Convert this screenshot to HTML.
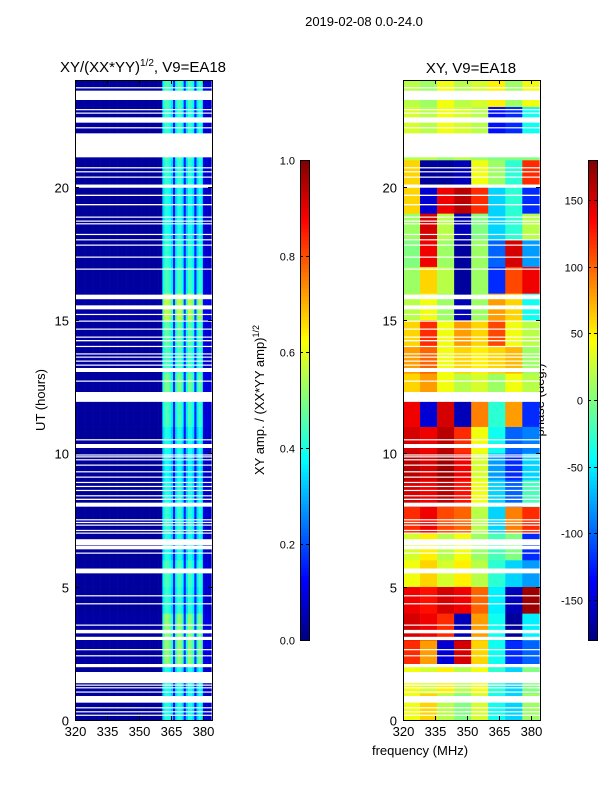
<!DOCTYPE html>
<html><head><meta charset="utf-8"><style>
body{margin:0;background:#fff;}
svg text{font-family:"Liberation Sans",sans-serif;fill:#000;}
</style></head><body>
<svg id="c" width="600" height="800" xmlns="http://www.w3.org/2000/svg">
<rect width="600" height="800" fill="#fff"/>
<text x="364" y="26" font-size="13" text-anchor="middle">2019-02-08 0.0-24.0</text>
<text x="143" y="72" font-size="15" text-anchor="middle">XY/(XX*YY)<tspan font-size="10" dy="-6">1/2</tspan><tspan dy="6">, V9=EA18</tspan></text>
<text x="471" y="73" font-size="15" text-anchor="middle">XY, V9=EA18</text>
<text transform="translate(45,400) rotate(-90)" font-size="13" text-anchor="middle">UT (hours)</text>
<text x="420" y="755" font-size="13" text-anchor="middle">frequency (MHz)</text>
<text transform="translate(264,400) rotate(-90)" font-size="13" text-anchor="middle">XY amp. / (XX*YY amp)<tspan font-size="9" dy="-5">1/2</tspan></text>
<text transform="translate(544,400) rotate(-90)" font-size="13" text-anchor="middle">phase (deg.)</text>
<g id="left"></g>
<g id="right"></g>
<g id="axes"></g>
<g id="cb"></g>
</svg>
<script>
// ---- data ----
const hours = [0,1,2,3,4,5,6,7,8,9,10,11,12,13,14,15,16,17,18,19,20,21,22,23];
const freqTicks = [320,335,350,365,380];
const timeTicks = [0,5,10,15,20];
const ampTicks = [0.0,0.2,0.4,0.6,0.8,1.0];
const phaseTicks = [-150,-100,-50,0,50,100,150];
// amplitude per 1 MHz bin 320..383
const ampByFreq = [0.03,0.03,0.03,0.03,0.03,0.03,0.03,0.03,0.03,0.03,
0.03,0.03,0.03,0.03,0.03,0.03,0.03,0.03,0.03,0.03,
0.03,0.03,0.03,0.03,0.03,0.03,0.03,0.03,0.03,0.03,
0.03,0.03,0.03,0.03,0.03,0.03,0.03,0.03,0.03,0.03,
0.03,0.38,0.45,0.45,0.42,0.36,0.15,0.38,0.45,0.45,
0.38,0.16,0.36,0.45,0.43,0.38,0.16,0.36,0.44,0.4,
0.1,0.08,0.08,0.08];
const rowGain = [0.9,0.9,1.15,1.15,0.95,1.0,0.9,0.95,0.9,0.85,0.9,1.0,1.1,1.0,1.05,1.25,1.0,0.95,0.9,0.9,0.95,1.0,0.95,1.0];
// phase (deg) per hour x 8 MHz bin (320-328 ... 376-384)
const phase = [
[40,60,20,0,30,-40,-60,10],
[40,30,50,20,40,-30,-60,0],
[120,80,-150,150,60,-40,-120,-100],
[150,140,120,-160,80,-40,-170,-50],
[140,130,150,140,100,-50,-160,170],
[40,60,30,50,20,-30,-60,-80],
[30,50,20,40,10,-20,0,-120],
[120,140,110,100,20,-60,90,120],
[150,140,160,130,40,-60,-100,-20],
[160,150,170,140,30,-80,-120,-60],
[150,140,160,120,40,-40,-100,-90],
[140,-150,150,-160,90,-30,80,-120],
[60,80,40,20,30,10,40,20],
[80,100,40,60,50,60,70,10],
[60,120,40,80,60,110,40,20],
[20,40,10,-160,10,80,60,-40],
[10,60,20,-170,10,-120,110,140],
[0,140,10,-170,10,-100,150,-80],
[10,150,20,-160,0,-60,-30,20],
[60,-150,140,160,120,-60,-30,-120],
[60,-170,-170,-160,40,10,-30,120],
[20,20,10,20,10,0,0,0],
[30,20,40,30,20,-130,-120,-40],
[20,10,40,20,30,50,10,40]];
// flagged (blank) time ranges in hours [start,end]
const gaps = [[0.17,0.2],[0.3,0.33],[0.45,0.48],[0.65,0.9],[1.04,1.07],[1.2,1.23],[1.3,1.33],[1.38,1.8],[1.98,2.1],[2.4,2.43],[2.63,2.66],[3.0,3.12],[3.25,3.38],[3.55,3.58],[4.35,4.38],[4.65,4.68],[5.5,5.68],[6.25,6.28],[6.4,6.53],[6.55,6.78],[7.0,7.03],[7.1,7.13],[7.3,7.33],[7.4,7.43],[7.5,7.53],[8.0,8.15],[8.25,8.3],[8.4,8.43],[8.6,8.63],[8.75,8.78],[8.9,8.93],[9.1,9.13],[9.3,9.33],[9.55,9.58],[9.75,9.78],[9.86,9.89],[9.93,9.96],[10.2,10.35],[10.5,10.53],[11.93,12.3],[12.7,12.73],[13.05,13.2],[13.3,13.33],[13.45,13.48],[13.6,13.63],[13.72,13.75],[14.0,14.03],[14.2,14.25],[14.35,14.38],[14.65,14.68],[14.95,14.98],[15.2,15.23],[15.4,15.55],[15.78,15.95],[16.9,16.93],[17.35,17.38],[17.8,17.83],[18.0,18.03],[18.2,18.23],[18.6,18.63],[18.7,18.73],[18.85,18.88],[19.3,19.35],[19.65,19.7],[19.96,20.08],[20.35,20.38],[20.55,20.58],[20.7,20.73],[21.1,22.0],[22.2,22.23],[22.4,22.6],[22.75,22.78],[22.88,22.91],[23.25,23.6],[23.7,23.73]];
// ---- scales ----
const NS='http://www.w3.org/2000/svg';
const top0=80, bot0=720, L={x0:75,x1:212}, R={x0:403,x1:540};
const fmin=320, fmax=384.3;
function yS(h){return bot0-(h/24)*(bot0-top0);}
function xS(p,f){return p.x0+(f-fmin)/(fmax-fmin)*(p.x1-p.x0);}
function cl(v){return Math.max(0,Math.min(1,v));}
function jet(v){v=cl(v);const r=cl(1.5-Math.abs(4*v-3)),g=cl(1.5-Math.abs(4*v-2)),b=cl(1.5-Math.abs(4*v-1));return `rgb(${Math.round(r*255)},${Math.round(g*255)},${Math.round(b*255)})`;}
function rect(g,x,y,w,h,fill){const r=document.createElementNS(NS,'rect');r.setAttribute('x',x);r.setAttribute('y',y);r.setAttribute('width',w);r.setAttribute('height',h);r.setAttribute('fill',fill);g.appendChild(r);return r;}
function line(g,x1,y1,x2,y2,c){const l=document.createElementNS(NS,'line');l.setAttribute('x1',x1);l.setAttribute('y1',y1);l.setAttribute('x2',x2);l.setAttribute('y2',y2);l.setAttribute('stroke',c||'#000');l.setAttribute('stroke-width',1);g.appendChild(l);return l;}
function text(g,x,y,s,anchor){const t=document.createElementNS(NS,'text');t.setAttribute('x',x);t.setAttribute('y',y);t.setAttribute('font-size','13');t.setAttribute('text-anchor',anchor||'middle');t.textContent=s;g.appendChild(t);return t;}
// ---- left heatmap ----
const gL=document.getElementById('left');
hours.forEach((h,i)=>{
  ampByFreq.forEach((a,j)=>{
    const f0=fmin+j, f1=Math.min(fmin+j+1,fmax);
    const r=rect(gL,xS(L,f0),yS(h+1),xS(L,f1)-xS(L,f0)+0.3,yS(h)-yS(h+1)+0.3,jet(a*rowGain[i]));
    
    
  });
});
// ---- right heatmap ----
const gR=document.getElementById('right');
phase.forEach((row,i)=>{
  row.forEach((p,j)=>{
    const f0=fmin+j*8, f1=Math.min(fmin+(j+1)*8,fmax);
    const r=rect(gR,xS(R,f0),yS(hours[i]+1),xS(R,f1)-xS(R,f0)+0.3,yS(hours[i])-yS(hours[i]+1)+0.3,jet((p+180)/360));
    
    
  });
});
// ---- gaps ----
[[gL,L],[gR,R]].forEach(([g,p])=>{
  gaps.forEach(([a,b])=>{
    const r=rect(g,p.x0,yS(b),p.x1-p.x0,Math.max(1.2,yS(a)-yS(b)),'#fff');
    
    
  });
});
// ---- axes ----
const gA=document.getElementById('axes');
[L,R].forEach((p,k)=>{
  const fr=rect(gA,p.x0+0.5,top0+0.5,p.x1-p.x0,bot0-top0,'none');
  fr.setAttribute('stroke','#000');
  
  
  timeTicks.forEach(t=>{
    const y=Math.round(yS(t))+0.5;
    line(gA,p.x0,y,p.x0+4,y);line(gA,p.x1-4,y,p.x1,y);
    const tl=text(gA,p.x0-6,y+5,String(t),'end');
    
    
  });
  freqTicks.forEach(f=>{
    const x=Math.round(xS(p,f))+0.5;
    line(gA,x,bot0,x,bot0-4);line(gA,x,top0,x,top0+4);
    const tl=text(gA,x,bot0+16,String(f));
    
    
  });
});
// ---- colorbars ----
const gC=document.getElementById('cb');
const cbTop=160, cbBot=640;
function cbar(x0,w,vmin,vmax,ticks,name,fmt){
  const n=120;
  for(let i=0;i<n;i++){
    const y=cbBot-(i+1)*(cbBot-cbTop)/n;
    rect(gC,x0,y,w,(cbBot-cbTop)/n+0.4,jet((i+0.5)/n));
  }
  const fr=rect(gC,x0+0.5,cbTop+0.5,w,cbBot-cbTop,'none');
  fr.setAttribute('stroke','#000');
  
  
  ticks.forEach(t=>{
    const y=Math.round(cbBot-(t-vmin)/(vmax-vmin)*(cbBot-cbTop))+0.5;
    line(gC,x0,y,x0+3,y);line(gC,x0+w-3,y,x0+w,y);
    const tl=text(gC,x0-5,y+4,fmt(t),'end');
    tl.setAttribute('font-size','11');
    
    
  });
}
cbar(300,9,0,1,ampTicks,'amp-colorbar',t=>t.toFixed(1));
cbar(588,9,-180,180,phaseTicks,'phase-colorbar',t=>String(t));
</script>
</body></html>
